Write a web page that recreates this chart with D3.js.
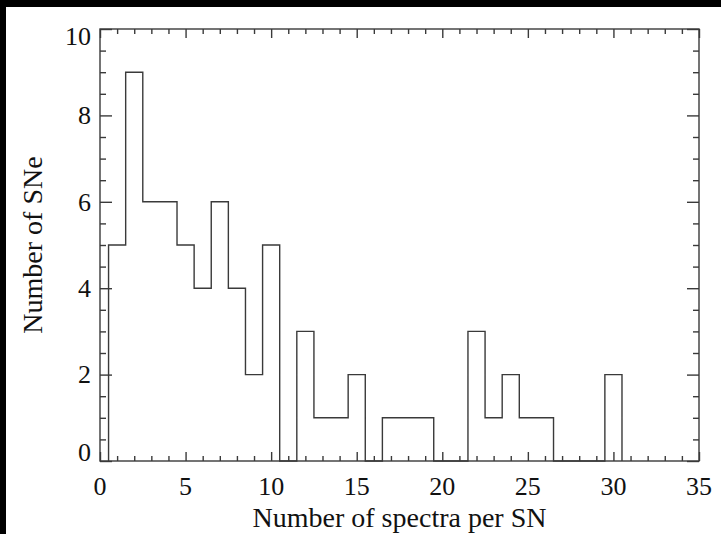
<!DOCTYPE html>
<html>
<head>
<meta charset="utf-8">
<script src="https://cdn.jsdelivr.net/npm/d3@7"></script>
<style>
  html, body { margin: 0; padding: 0; background: #000; }
  svg { display: block; }
</style>
</head>
<body>
<svg id="chart" width="721" height="534"></svg>
<script>
// ---- data ----
const spectraPerSN = [1,2,3,4,5,6,7,8,9,10,11,12,13,14,15,16,17,18,19,20,21,22,23,24,25,26,27,28,29,30];
const numSNe       = [5,9,6,6,5,4,6,4,2,5,0,3,1,1,2,0,1,1,1,0,0,3,1,2,1,1,0,0,0,2];
const xTickValues  = [0,5,10,15,20,25,30,35];
const yTickValues  = [0,2,4,6,8,10];
const xTitle = "Number of spectra per SN";
const yTitle = "Number of SNe";

(function () {
// ---- layout ----
const W = 721, H = 534;
const pL = 100, pR = 699, pT = 29, pB = 461;
const ink = "#3a3a3a";
const font = "'Liberation Serif', 'Times New Roman', serif";

const svg = d3.select("#chart");
svg.append("rect").attr("x", 6).attr("y", 7).attr("width", W - 6).attr("height", H - 7).attr("fill", "#fff");

const x = d3.scaleLinear().domain([0, 35]).range([pL, pR]);
const y = d3.scaleLinear().domain([0, 10]).range([pB, pT]);

// histogram step path
const pts = [[spectraPerSN[0] - 0.5, 0]];
spectraPerSN.forEach((v, i) => {
  pts.push([v - 0.5, numSNe[i]]);
  pts.push([v + 0.5, numSNe[i]]);
});
pts.push([spectraPerSN[spectraPerSN.length - 1] + 0.5, 0]);
const line = d3.line().x(d => x(d[0])).y(d => y(d[1]));
svg.append("path").attr("d", line(pts)).attr("fill", "none")
  .attr("stroke", ink).attr("stroke-width", 1.4);

// axes with inward ticks
function styleAxis(g) {
  g.select(".domain").remove();
  g.selectAll("line").attr("stroke", ink).attr("stroke-width", 1.4);
}
const xMinor = d3.range(0, 35.001, 1).filter(v => v % 5 !== 0);
const yMinor = d3.range(0, 10.001, 0.5).filter(v => v % 2 !== 0);

svg.append("g").attr("transform", `translate(0,${pB})`)
  .call(d3.axisTop(x).tickValues(xTickValues).tickSize(9).tickFormat("")).call(styleAxis);
svg.append("g").attr("transform", `translate(0,${pB})`)
  .call(d3.axisTop(x).tickValues(xMinor).tickSize(5).tickFormat("")).call(styleAxis);
svg.append("g").attr("transform", `translate(0,${pT})`)
  .call(d3.axisBottom(x).tickValues(xTickValues).tickSize(9).tickFormat("")).call(styleAxis);
svg.append("g").attr("transform", `translate(0,${pT})`)
  .call(d3.axisBottom(x).tickValues(xMinor).tickSize(5).tickFormat("")).call(styleAxis);
svg.append("g").attr("transform", `translate(${pL},0)`)
  .call(d3.axisRight(y).tickValues(yTickValues).tickSize(12).tickFormat("")).call(styleAxis);
svg.append("g").attr("transform", `translate(${pL},0)`)
  .call(d3.axisRight(y).tickValues(yMinor).tickSize(6).tickFormat("")).call(styleAxis);
svg.append("g").attr("transform", `translate(${pR},0)`)
  .call(d3.axisLeft(y).tickValues(yTickValues).tickSize(12).tickFormat("")).call(styleAxis);
svg.append("g").attr("transform", `translate(${pR},0)`)
  .call(d3.axisLeft(y).tickValues(yMinor).tickSize(6).tickFormat("")).call(styleAxis);

// frame
svg.append("rect").attr("x", pL).attr("y", pT).attr("width", pR - pL).attr("height", pB - pT)
  .attr("fill", "none").attr("stroke", ink).attr("stroke-width", 1.4);

// tick labels
svg.append("g").selectAll("text").data(xTickValues).join("text")
  .attr("x", d => x(d)).attr("y", 495)
  .attr("text-anchor", "middle").attr("font-family", font).attr("font-size", 26).attr("fill", "#111")
  .text(d => d);
svg.append("g").selectAll("text").data(yTickValues).join("text")
  .attr("x", 91)
  .attr("y", d => Math.min(Math.max(y(d), pT + 7), pB - 9))
  .attr("dy", "0.34em")
  .attr("text-anchor", "end").attr("font-family", font).attr("font-size", 26).attr("fill", "#111")
  .text(d => d);

// titles
svg.append("text").attr("x", (pL + pR) / 2).attr("y", 527)
  .attr("text-anchor", "middle").attr("font-family", font).attr("font-size", 28).attr("fill", "#111")
  .text(xTitle);
svg.append("text").attr("transform", `translate(42,${(pT + pB) / 2}) rotate(-90)`)
  .attr("text-anchor", "middle").attr("font-family", font).attr("font-size", 28).attr("fill", "#111")
  .text(yTitle);
})();
</script>
</body>
</html>
